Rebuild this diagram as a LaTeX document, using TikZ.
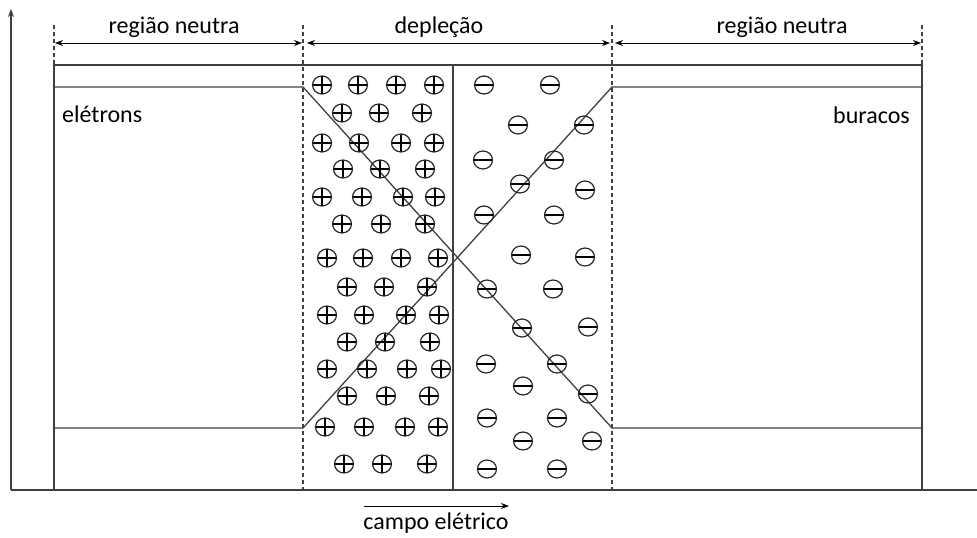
\documentclass[tikz,border=0pt]{standalone}
\usepackage{fontspec}
\setmainfont{Carlito}
\usetikzlibrary{arrows.meta,shapes.geometric}
\definecolor{linegray}{HTML}{404040}
\begin{document}
\begin{tikzpicture}[x=1pt,y=-1pt,
  band/.style={draw=linegray,line width=1.3pt},
  boundary/.style={draw=linegray,line width=1.3pt,dash pattern=on 4pt off 3pt},
  span/.style={draw=black,line width=1pt,{Stealth[length=8pt,width=6pt]}-{Stealth[length=8pt,width=6pt]}},
  lbl/.style={font=\fontsize{24}{28}\selectfont,inner sep=0pt},
  chargebase/.style={ellipse,draw=black!85,line width=1.2pt,minimum width=19pt,minimum height=18pt,inner sep=0pt},
  pcharge/.style={chargebase,path picture={\draw[black,line width=1.6pt]
      (path picture bounding box.north)--(path picture bounding box.south)
      (path picture bounding box.west)--(path picture bounding box.east);}},
  ncharge/.style={chargebase,path picture={\draw[black,line width=1.6pt]
      (path picture bounding box.west)--(path picture bounding box.east);}},
]
\useasboundingbox (0,0) rectangle (977,538);

% axes
\coordinate (ax0) at (11,490);
\coordinate (axtop) at (11,9);
\coordinate (axright) at (977,490);
\draw[band,-{Stealth[length=8pt,width=6pt]}] (ax0) -- (axtop);
\draw[band] (ax0) -- (axright);

% outer frame of the junction
\coordinate (TL) at (54,65);
\coordinate (TR) at (922,65);
\coordinate (BL) at (54,490);
\coordinate (BR) at (922,490);
\draw[band] (BL) -- (TL) -- (TR) -- (BR);

% metallurgical junction
\coordinate (M1) at (453,65);
\coordinate (M2) at (453,490);
\draw[band] (M1) -- (M2);

% band edges
\coordinate (CL1) at (54,87);
\coordinate (CL2) at (303,87);
\coordinate (VL1) at (54,428);
\coordinate (VL2) at (303,428);
\coordinate (CR1) at (612,87);
\coordinate (CR2) at (922,87);
\coordinate (VR1) at (612,428);
\coordinate (VR2) at (922,428);
\draw[band] (CL1) -- (CL2) -- (VR1) -- (VR2);
\draw[band] (VL1) -- (VL2) -- (CR1) -- (CR2);

% region boundaries
\coordinate (DA) at (54,25);
\coordinate (DB) at (303,25);
\coordinate (DBb) at (303,490);
\coordinate (DC) at (612,25);
\coordinate (DCb) at (612,490);
\coordinate (DD) at (922,25);
\draw[boundary] (DA) -- (TL);
\draw[boundary] (DB) -- (DBb);
\draw[boundary] (DC) -- (DCb);
\draw[boundary] (DD) -- (TR);

% widths of the regions
\coordinate (s1a) at (55,43);
\coordinate (s1b) at (302,43);
\coordinate (s2a) at (307,43);
\coordinate (s2b) at (610,43);
\coordinate (s3a) at (615,43);
\coordinate (s3b) at (921,43);
\draw[span] (s1a) -- (s1b);
\draw[span] (s2a) -- (s2b);
\draw[span] (s3a) -- (s3b);

\node[lbl,anchor=base] (rn1) at (174,33) {região neutra};
\node[lbl,anchor=base] (dep) at (439,33) {depleção};
\node[lbl,anchor=base] (rn2) at (782,33) {região neutra};
\node[lbl,anchor=base west] (el) at (62,122) {elétrons};
\node[lbl,anchor=base east] (bu) at (910,123) {buracos};

% fixed positive ions
\foreach [count=\i] \x/\y in {
  322/85, 358/85, 396/85, 434/85,
  342/113, 379/113, 422/113,
  322/143, 359/143, 401/143, 434/143,
  343/169, 380/169, 425/169,
  322/197, 362/197, 403/197, 435/197,
  342/224, 381/224, 425/224,
  327/258, 363/258, 401/258, 438/258,
  347/287, 384/287, 427/287,
  327/315, 364/315, 406/315, 439/315,
  347/342, 385/342, 430/342,
  327/369, 367/369, 407/369, 441/369,
  347/396, 386/396, 429/396,
  325/427, 364/427, 405/427, 438/427,
  344/464, 382/464, 427/464}
  \node[pcharge] (p\i) at (\x,\y) {};

% fixed negative ions
\foreach [count=\i] \x/\y in {
  484/85, 550/85,
  518/125, 584/125,
  483/160, 554/160,
  520/184, 585/190,
  484/215, 554/215,
  521/255, 585/257,
  487/289, 553/289,
  522/328, 588/327,
  486/364, 557/364,
  523/386, 588/394,
  487/418, 557/418,
  523/441, 592/441,
  487/469, 557/469}
  \node[ncharge] (n\i) at (\x,\y) {};

% electric field direction
\coordinate (f1) at (364,506);
\coordinate (f2) at (509,506);
\draw[black,line width=1pt,-{Stealth[length=8pt,width=6pt]}] (f1) -- (f2);
\node[lbl,anchor=base] (campo) at (436,529) {campo elétrico};
\end{tikzpicture}
\end{document}
